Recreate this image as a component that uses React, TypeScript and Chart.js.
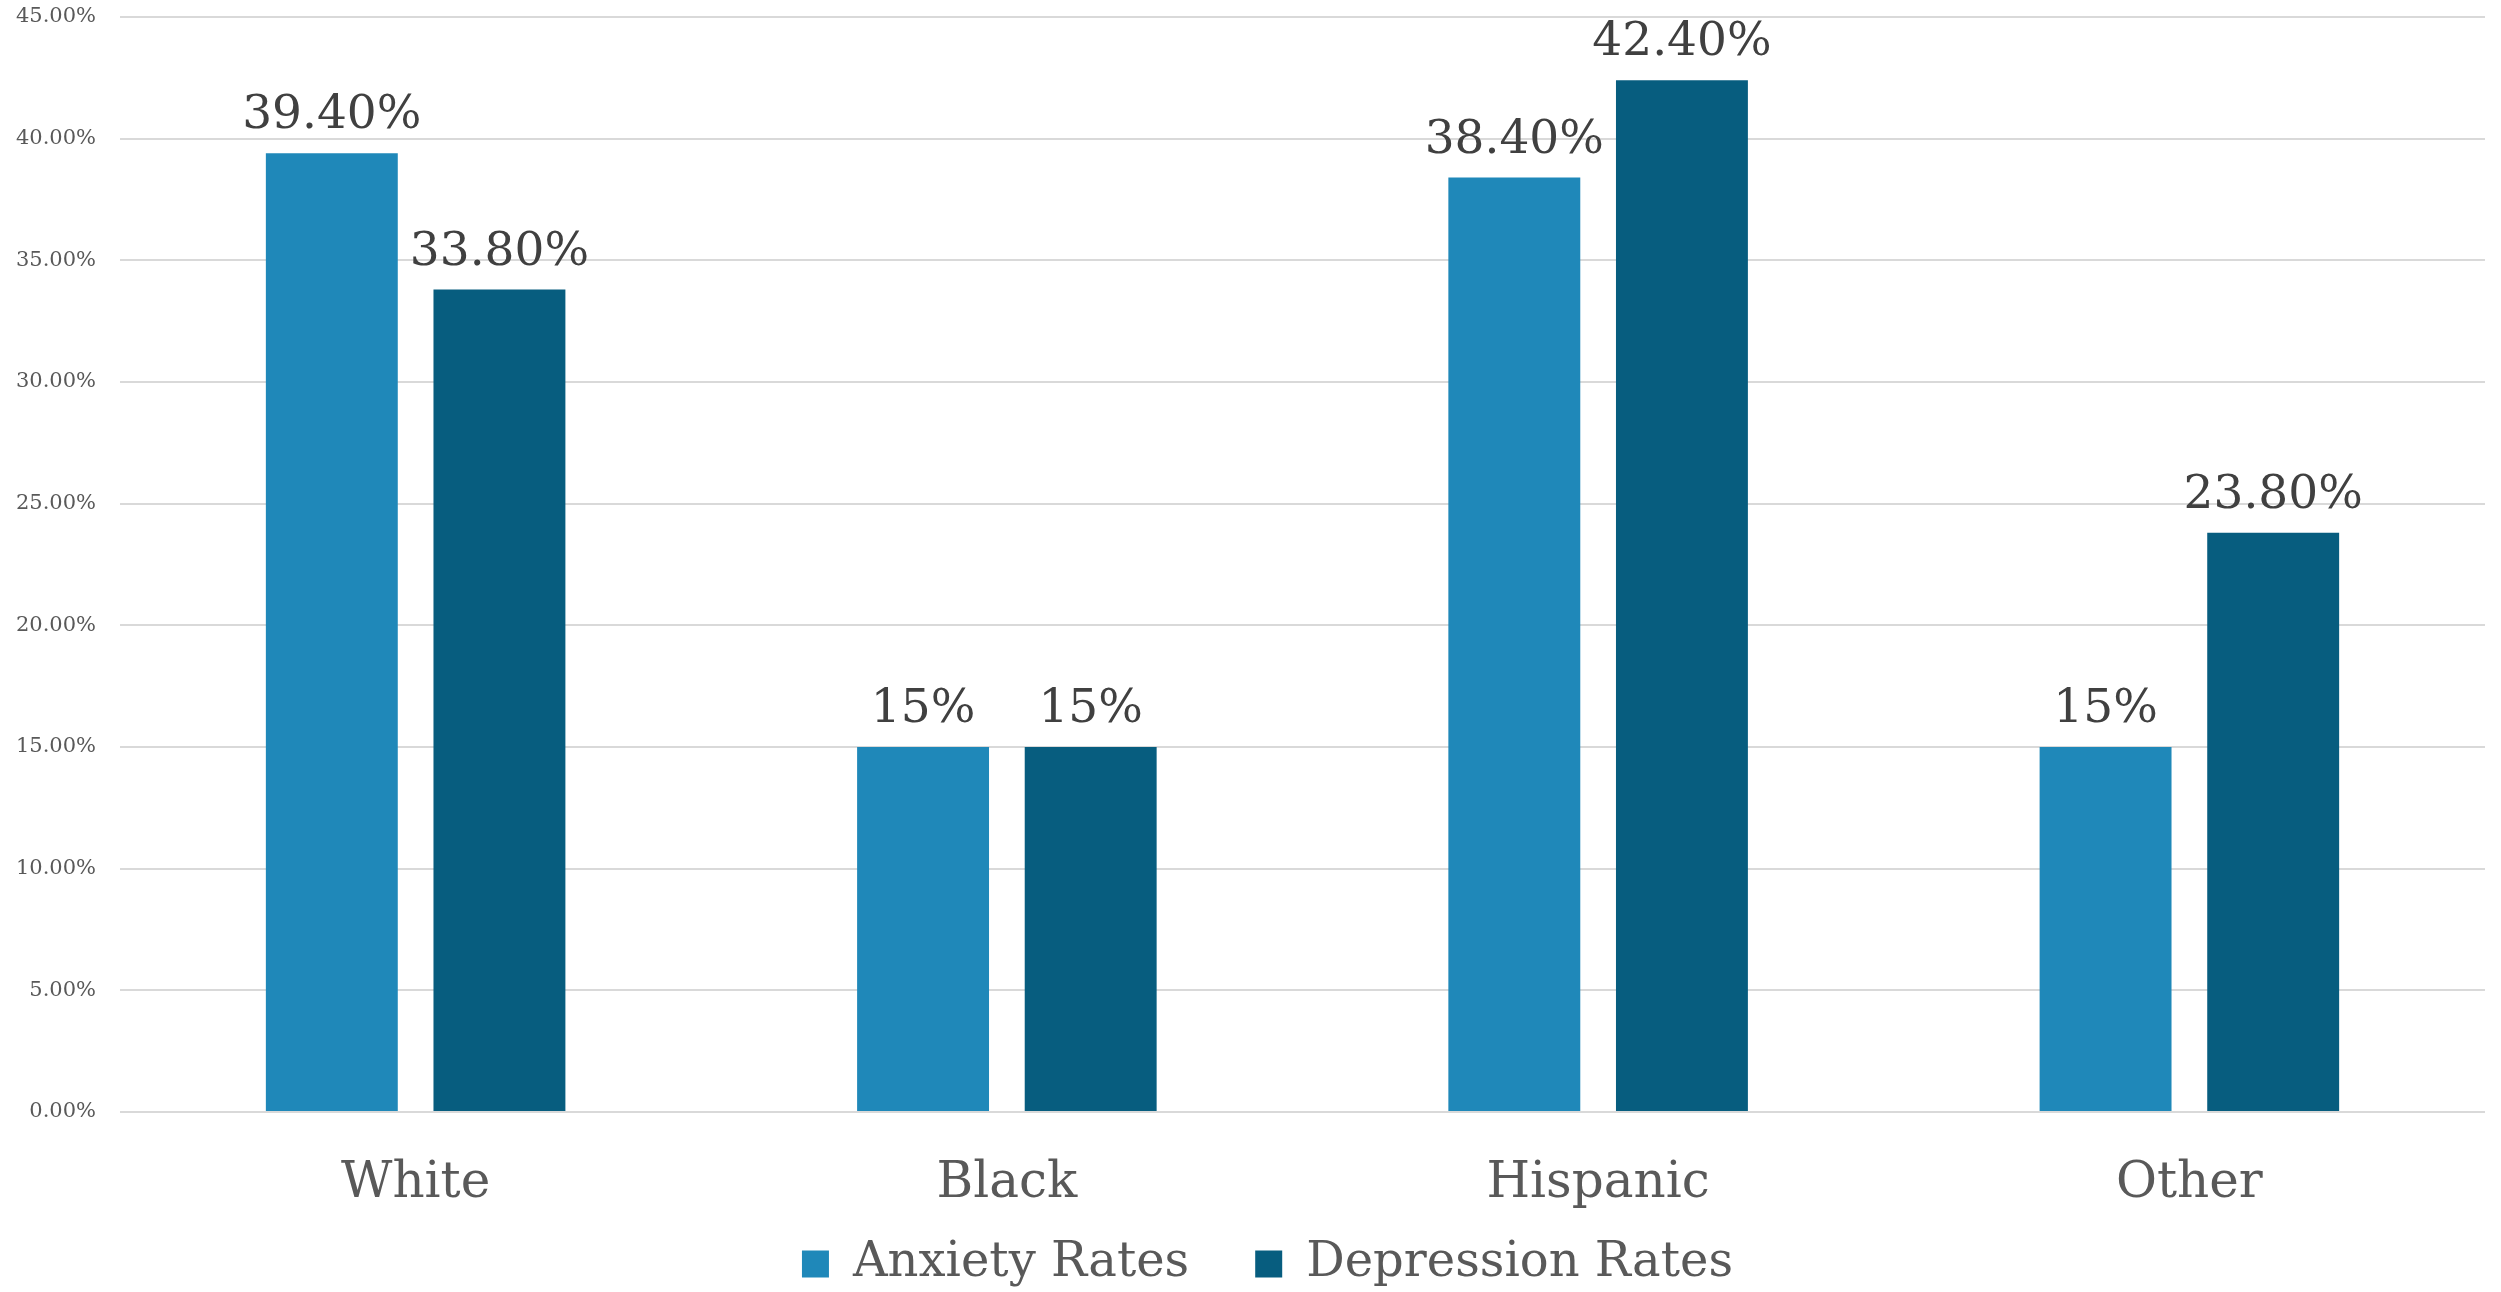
import React, { useEffect, useRef } from "react";
import { Chart, registerables } from "chart.js";

Chart.register(...registerables);

// Survey groups and their rates (percent)
const groups = ["White", "Black", "Hispanic", "Other"];
const anxietyRates = [39.4, 15, 38.4, 15];
const depressionRates = [33.8, 15, 42.4, 23.8];
const seriesNames = ["Anxiety Rates", "Depression Rates"];
const yTicks = [0, 5, 10, 15, 20, 25, 30, 35, 40, 45];

const FONT = "'DejaVu Serif', serif";
const ANXIETY = "#1f88b9";
const DEPRESSION = "#075d7f";

const fmtValue = (v: number) => (Number.isInteger(v) ? `${v}%` : `${v.toFixed(2)}%`);

// Writes each bar's value just above its top
const valueLabels = {
  id: "valueLabels",
  afterDatasetsDraw(chart: any) {
    const ctx = chart.ctx;
    ctx.save();
    ctx.font = `47px ${FONT}`;
    ctx.fillStyle = "#404040";
    ctx.textAlign = "center";
    ctx.textBaseline = "alphabetic";
    chart.data.datasets.forEach((ds: any, di: number) => {
      const meta = chart.getDatasetMeta(di);
      meta.data.forEach((bar: any, i: number) => {
        ctx.fillText(fmtValue(ds.data[i]), bar.x, bar.y - 25);
      });
    });
    ctx.restore();
  },
};

// Lets the legend row sit a little closer to the category labels
const legendPlacement = {
  id: "legendPlacement",
  afterLayout(chart: any) {
    const lg = chart.legend;
    if (!lg) return;
    const h = 118;
    lg.bottom = chart.height;
    lg.top = chart.height - h;
    lg.height = h;
    lg.left += 25;
    lg.right += 25;
  },
};

export default function App() {
  const canvasRef = useRef<HTMLCanvasElement | null>(null);

  useEffect(() => {
    document.body.style.margin = "0";
    const canvas = canvasRef.current;
    if (!canvas) return;
    const chart = new Chart(canvas, {
      type: "bar",
      data: {
        labels: groups,
        datasets: [
          {
            label: seriesNames[0],
            data: anxietyRates,
            backgroundColor: ANXIETY,
            categoryPercentage: 0.567,
            barPercentage: 0.787,
          },
          {
            label: seriesNames[1],
            data: depressionRates,
            backgroundColor: DEPRESSION,
            categoryPercentage: 0.567,
            barPercentage: 0.787,
          },
        ],
      },
      options: {
        responsive: false,
        animation: false,
        devicePixelRatio: 1,
        layout: { padding: { top: 17, right: 16, bottom: 0, left: 0 } },
        plugins: {
          tooltip: { enabled: false },
          legend: {
            position: "bottom",
            maxHeight: 70,
            labels: {
              font: { family: FONT, size: 48 },
              color: "#595959",
              boxWidth: 27,
              boxHeight: 27,
              padding: 66,
            },
          },
        },
        scales: {
          x: {
            grid: { display: false },
            border: { display: false },
            ticks: {
              font: { family: FONT, size: 50 },
              color: "#595959",
              padding: 34,
            },
            afterFit(scale: any) {
              scale.height = 110;
            },
          },
          y: {
            min: 0,
            max: 45,
            afterBuildTicks(scale: any) {
              scale.ticks = yTicks.map((v) => ({ value: v }));
            },
            grid: {
              color: "#d9d9d9",
              lineWidth: 2,
              drawTicks: true,
              tickLength: 24,
              tickColor: "rgba(0,0,0,0)",
            },
            border: { display: false },
            ticks: {
              font: { family: FONT, size: 21 },
              color: "#595959",
              padding: 0,
              callback: (v: any) => `${Number(v).toFixed(2)}%`,
            },
            afterFit(scale: any) {
              scale.width = 120;
            },
          },
        },
      },
      plugins: [valueLabels, legendPlacement],
    });
    return () => chart.destroy();
  }, []);

  return (
    <div style={{ position: "absolute", left: 0, top: 0, width: 2501, height: 1292, background: "#ffffff" }}>
      <canvas ref={canvasRef} width={2501} height={1292} style={{ display: "block" }} />
    </div>
  );
}
